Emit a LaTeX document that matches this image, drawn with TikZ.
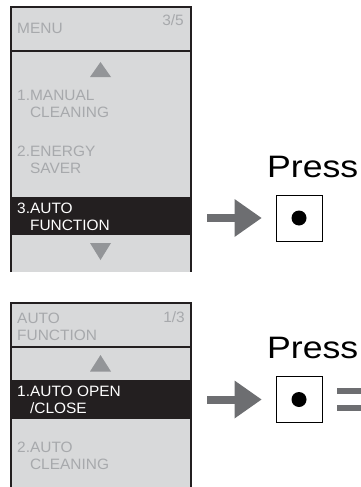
\documentclass[tikz,border=0pt]{standalone}
\usepackage{fontspec}
\newfontfamily\lcdfont[FakeStretch=1.03]{Liberation Sans}
\newfontfamily\pressfont[FakeStretch=1.15]{Liberation Sans}
\usetikzlibrary{arrows.meta,positioning}
\definecolor{panelgray}{HTML}{D8D9DA}
\definecolor{dimtext}{HTML}{A7A9AC}
\definecolor{barblack}{HTML}{231F20}
\definecolor{trigray}{HTML}{939598}
\definecolor{arrowgray}{HTML}{6D6E71}

\begin{document}
\begin{tikzpicture}[
          x=1pt, y=-1pt,
          item/.style={font=\lcdfont\fontsize{15}{16.6}\selectfont, text=dimtext,
                       anchor=base west, inner sep=0pt, align=left},
          selitem/.style={item, text=white},
          pagenum/.style={item, anchor=base east},
          frame/.style={draw=barblack, line width=1.3pt},
          btn/.style={draw, line width=1pt, fill=white, minimum size=46pt, inner sep=0pt},
          press/.style={font=\pressfont\fontsize{31}{36}\selectfont, anchor=base west, inner sep=0pt},
          flow/.style={draw=arrowgray, line width=8pt, shorten >=14pt,
                       -{Triangle[length=27pt, width=38pt, line width=0pt]}}
      ]
        \useasboundingbox (0,0) rectangle (360,487);

        % Panel 1: menu page 3/5
        \fill[panelgray] (11,7) rectangle (191,272);
        \fill[barblack] (11,196.5) rectangle (191,235);
        \draw[frame] (11,272) -- (11,7) -- (191,7) -- (191,272);
        \draw[frame] (11,51) -- (191,51);
        \fill[trigray] (90,77) -- (111,77) -- (100.5,62) -- cycle;
        \fill[trigray] (90,243) -- (111,243) -- (100.5,260) -- cycle;

        % (base of a two-line node = its last line)
        \node[item] (menu) at (17,34) {MENU};
        \node[pagenum] (pg1) at (184,25.5) {3/5};
        \node[item] (manual) at (17,117.3) {1.MANUAL\\\phantom{1.}CLEANING};
        \node[item] (energy) at (17,173.3) {2.ENERGY\\\phantom{2.}SAVER};
        \node[selitem] (autofn) at (17,230) {3.AUTO\\\phantom{3.}FUNCTION};

        % Panel 2: auto function page 1/3
        \fill[panelgray] (11,303) rectangle (191,490);
        \fill[barblack] (11,380) rectangle (191,418.5);
        \draw[frame] (11,490) -- (11,303) -- (191,303) -- (191,490);
        \draw[frame] (11,347) -- (191,347);
        \fill[trigray] (90,371.5) -- (111,371.5) -- (100.5,355) -- cycle;

        \node[item] (autohd) at (17,340) {AUTO\\FUNCTION};
        \node[pagenum] (pg2) at (185,322.7) {1/3};
        \node[selitem] (openclose) at (17,413.3) {1.AUTO OPEN\\\phantom{1.}/CLOSE};
        \node[item] (autoclean) at (17,469.3) {2.AUTO\\\phantom{2.}CLEANING};

        % Press buttons
        \node[press] (press1) at (267,177) {Press};
        \node[btn] (btn1) at (299,218) {};
        \fill (btn1.center) circle (7.5pt);
        \coordinate (a1) at (207,218);
        \draw[flow] (a1) -- (btn1);

        \node[press] (press2) at (267,358) {Press};
        \node[btn] (btn2) at (299,399.5) {};
        \fill (btn2.center) circle (7.5pt);
        \coordinate (a2) at (207,399.5);
        \draw[flow] (a2) -- (btn2);

        % equals sign, cut at the edge
        \fill[arrowgray] (337,388) rectangle (365,394);
        \fill[arrowgray] (337,405) rectangle (365,411);
      \end{tikzpicture}
\end{document}
